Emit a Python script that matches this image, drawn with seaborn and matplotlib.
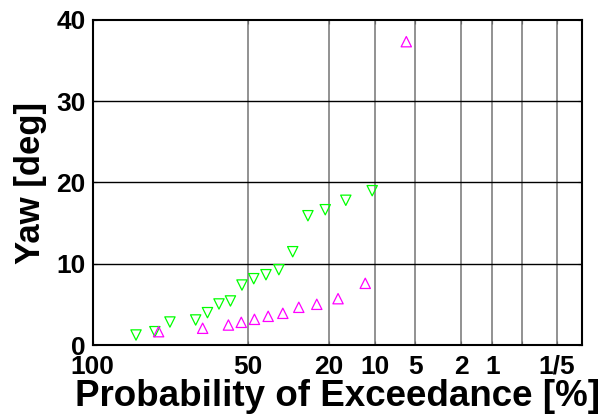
import numpy as np
import pandas as pd
import matplotlib
matplotlib.use("Agg")
import matplotlib.pyplot as plt
import seaborn as sns

# Data (probability of exceedance in %, yaw in deg)
green_p = [94.74, 89.47, 84.21, 73.68, 68.42, 63.16, 57.89, 52.63, 47.37, 42.11,
           36.84, 31.58, 26.32, 21.05, 15.79, 10.53]
green_y = [1.23, 1.64, 2.83, 3.08, 3.98, 5.05, 5.42, 7.38, 8.16, 8.65,
           9.27, 11.48, 15.91, 16.65, 17.81, 18.99]
magenta_p = [88.24, 70.59, 58.82, 52.94, 47.06, 41.18, 35.29, 29.41, 23.53,
             17.65, 11.76, 5.88]
magenta_y = [1.64, 2.06, 2.46, 2.79, 3.16, 3.53, 3.90, 4.64, 5.01, 5.70,
             7.59, 37.33]

x_ticks = [100, 50, 20, 10, 5, 2, 1, 0.5, 0.2]
x_ticklabels = ["100", "50", "20", "10", "5", "2", "1", "", "1/5"]
y_ticks = [0, 10, 20, 30, 40]

sns.set_theme(style="white")
plt.rcParams["font.family"] = ["Liberation Sans", "DejaVu Sans"]
plt.rcParams["font.weight"] = "bold"

fig = plt.figure(figsize=(6.04, 4.19), dpi=100)
ax = fig.add_axes([0.1535, 0.1766, 0.8106, 0.7757])


def fwd(p):
    p = np.clip(np.asarray(p, dtype=float), 1e-9, 100.0)
    return np.sqrt(-np.log(p / 100.0))


def inv(x):
    x = np.asarray(x, dtype=float)
    return 100.0 * np.exp(-x ** 2)


ax.set_xscale("function", functions=(fwd, inv))

df_g = pd.DataFrame({"p": green_p, "yaw": green_y})
df_m = pd.DataFrame({"p": magenta_p, "yaw": magenta_y})

sns.scatterplot(data=df_g, x="p", y="yaw", ax=ax, marker="v", s=55,
                facecolor="none", edgecolor="#00ff00", linewidth=0.9, zorder=3)
sns.scatterplot(data=df_m, x="p", y="yaw", ax=ax, marker="^", s=55,
                facecolor="none", edgecolor="#ff00ff", linewidth=0.9, zorder=4)

ax.set_xlim(0.1, 100)
ax.set_ylim(0, 40)
ax.set_xticks(x_ticks)
ax.set_xticklabels(x_ticklabels)
ax.xaxis.set_minor_locator(matplotlib.ticker.NullLocator())
ax.set_yticks(y_ticks)

ax.grid(False)
for p in x_ticks[1:]:
    ax.axvline(p, color="#7f7f7f", lw=1.2, zorder=1)
for y in y_ticks[1:-1]:
    ax.axhline(y, color="black", lw=1.0, zorder=1)

for s in ax.spines.values():
    s.set_color("black")
    s.set_linewidth(1.5)

ax.tick_params(axis="x", direction="in", length=3, width=0.8, top=True,
               bottom=True, labelsize=19, pad=7, colors="black")
ax.tick_params(axis="y", direction="in", length=3, width=0.8, left=True,
               right=True, labelsize=19, pad=5, colors="black")
for lab in ax.get_xticklabels() + ax.get_yticklabels():
    lab.set_fontweight("bold")

ax.set_xlabel("Probability of Exceedance [%]", fontsize=26.5,
              fontweight="bold", labelpad=0, color="black")
ax.set_ylabel("Yaw [deg]", fontsize=25, fontweight="bold",
              labelpad=7, color="black")

fig.savefig("out.png", dpi=100)
